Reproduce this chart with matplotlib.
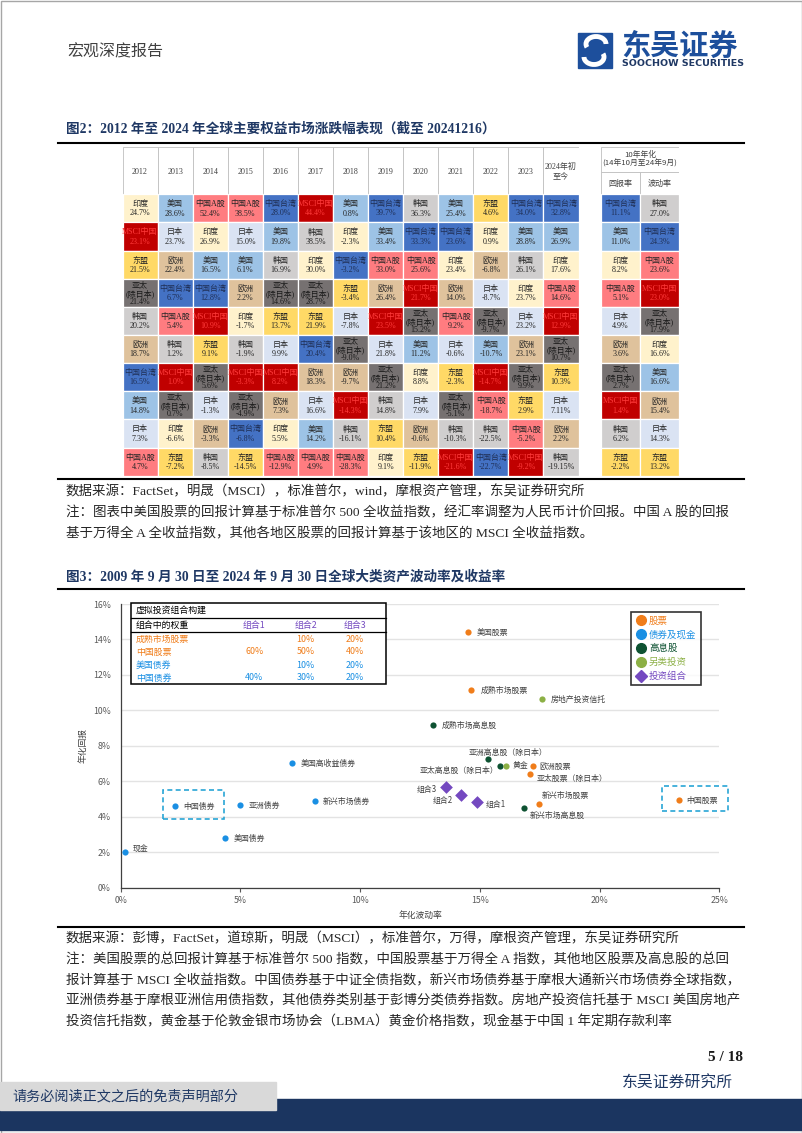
import matplotlib
matplotlib.use('Agg')
import matplotlib.pyplot as plt
from matplotlib.patches import Rectangle, Arc
from matplotlib.lines import Line2D

W, H = 802, 1133
CJK = ['Noto Sans CJK SC', 'DejaVu Sans']
SERIF = ['Liberation Serif', 'Noto Sans CJK SC']
NAVY = '#1F3864'

plt.rcParams['font.family'] = CJK
plt.rcParams['axes.unicode_minus'] = False

# ---------------- data: 图2 ----------------
year_labels = ['2012', '2013', '2014', '2015', '2016', '2017', '2018', '2019',
               '2020', '2021', '2022', '2023', '2024年初\n至今']

year_names = [
    ['印度', 'MSCI中国', '东盟', '亚太', '韩国', '欧洲', '中国台湾', '美国', '日本', '中国A股'],
    ['美国', '日本', '欧洲', '中国台湾', '中国A股', '韩国', 'MSCI中国', '亚太', '印度', '东盟'],
    ['中国A股', '印度', '美国', '中国台湾', 'MSCI中国', '东盟', '亚太', '日本', '欧洲', '韩国'],
    ['中国A股', '日本', '美国', '欧洲', '印度', '韩国', 'MSCI中国', '亚太', '中国台湾', '东盟'],
    ['中国台湾', '美国', '韩国', '亚太', '东盟', '日本', 'MSCI中国', '欧洲', '印度', '中国A股'],
    ['MSCI中国', '韩国', '印度', '亚太', '东盟', '中国台湾', '欧洲', '日本', '美国', '中国A股'],
    ['美国', '印度', '中国台湾', '东盟', '日本', '亚太', '欧洲', 'MSCI中国', '韩国', '中国A股'],
    ['中国台湾', '美国', '中国A股', '欧洲', 'MSCI中国', '日本', '亚太', '韩国', '东盟', '印度'],
    ['韩国', '中国台湾', '中国A股', 'MSCI中国', '亚太', '美国', '印度', '日本', '欧洲', '东盟'],
    ['美国', '中国台湾', '印度', '欧洲', '中国A股', '日本', '东盟', '亚太', '韩国', 'MSCI中国'],
    ['东盟', '印度', '欧洲', '日本', '亚太', '美国', 'MSCI中国', '中国A股', '韩国', '中国台湾'],
    ['中国台湾', '美国', '韩国', '印度', '日本', '欧洲', '亚太', '东盟', '中国A股', 'MSCI中国'],
    ['中国台湾', '美国', '印度', '中国A股', 'MSCI中国', '亚太', '东盟', '日本', '欧洲', '韩国'],
]
year_returns = [
    [24.7, 23.1, 21.5, 21.4, 20.2, 18.7, 16.5, 14.8, 7.3, 4.7],
    [28.6, 23.7, 22.4, 6.7, 5.4, 1.2, 1.0, 0.7, -6.6, -7.2],
    [52.4, 26.9, 16.5, 12.8, 10.9, 9.1, 5.6, -1.3, -3.3, -8.5],
    [38.5, 15.0, 6.1, 2.2, -1.7, -1.9, -3.3, -4.9, -6.8, -14.5],
    [28.0, 19.8, 16.9, 14.6, 13.7, 9.9, 8.2, 7.3, 5.5, -12.9],
    [44.4, 38.5, 30.0, 28.7, 21.9, 20.4, 18.3, 16.6, 14.2, 4.9],
    [0.8, -2.3, -3.2, -3.4, -7.8, -9.0, -9.7, -14.3, -16.1, -28.3],
    [39.7, 33.4, 33.0, 26.4, 23.5, 21.8, 21.2, 14.8, 10.4, 9.1],
    [36.3, 33.3, 25.6, 21.7, 15.2, 11.2, 8.8, 7.9, -0.6, -11.9],
    [25.4, 23.6, 23.4, 14.0, 9.2, -0.6, -2.3, -5.1, -10.3, -21.6],
    [4.6, 0.9, -6.8, -8.7, -9.7, -10.7, -14.7, -18.7, -22.5, -22.7],
    [34.0, 28.8, 26.1, 23.7, 23.2, 23.1, 9.9, 2.9, -5.2, -9.2],
    [32.8, 26.9, 17.6, 14.6, 12.9, 10.7, 10.3, 7.11, 2.2, -19.15],
]

ann_ret_names = ['中国台湾', '美国', '印度', '中国A股', '日本', '欧洲', '亚太', 'MSCI中国', '韩国', '东盟']
ann_ret_values = [11.1, 11.0, 8.2, 5.1, 4.9, 3.6, 2.7, 1.4, 6.2, -2.2]
ann_vol_names = ['韩国', '中国台湾', '中国A股', 'MSCI中国', '亚太', '印度', '美国', '欧洲', '日本', '东盟']
ann_vol_values = [27.0, 24.3, 23.6, 23.0, 17.9, 16.6, 16.6, 15.4, 14.3, 13.2]

region_color = {
    '印度': '#FFF2CC', '美国': '#9DC3E6', '中国A股': '#FF7C80', '中国台湾': '#4472C4',
    'MSCI中国': '#C00000', '日本': '#DAE3F3', '东盟': '#FFD966', '欧洲': '#DFC29C',
    '亚太': '#767171', '韩国': '#D0CECE',
}
region_text = {'中国台湾': '#1F2F55', 'MSCI中国': '#FF3B3B', '亚太': '#1A1A1A'}

# ---------------- data: 图3 ----------------
asset_names = ['现金', '美国债券', '中国债券', '亚洲债券', '新兴市场债券', '美国高收益债券',
               '美国股票', '成熟市场股票', '欧洲股票', '亚太股票（除日本）', '新兴市场股票', '中国股票',
               '成熟市场高息股', '亚洲高息股（除日本）', '亚太高息股（除日本）', '新兴市场高息股',
               '房地产投资信托', '黄金', '组合1', '组合2', '组合3']
asset_vol = [0.2, 4.35, 2.28, 5.0, 8.1, 7.15,
             14.5, 14.65, 17.2, 17.1, 17.45, 23.3,
             13.05, 15.35, 15.85, 16.85,
             17.6, 16.1, 14.9, 14.2, 13.6]
asset_ret = [2.03, 2.8, 4.62, 4.67, 4.9, 7.05,
             14.4, 11.15, 6.86, 6.41, 4.71, 4.92,
             9.2, 7.25, 6.88, 4.5,
             10.66, 6.89, 4.82, 5.24, 5.67]
asset_group = (['债券及现金'] * 6 + ['股票'] * 6 + ['高息股'] * 4 +
               ['另类投资'] * 2 + ['投资组合'] * 3)
group_order = ['股票', '债券及现金', '高息股', '另类投资', '投资组合']

portfolio_rows = ['成熟市场股票', '中国股票', '美国债券', '中国债券']
portfolio_cols = ['组合1', '组合2', '组合3']
weight_p1 = [None, 60, None, 40]
weight_p2 = [10, 50, 10, 30]
weight_p3 = [20, 40, 20, 20]

group_color = {'股票': '#F07D1A', '债券及现金': '#1A8FE3', '高息股': '#0E5232',
               '另类投资': '#8CB045', '投资组合': '#7449C0'}
row_color = ['#F07D1A', '#F07D1A', '#1A8FE3', '#1A8FE3']

# label offsets in pixels (dx, dy up, ha)
label_pos = {
    '现金': (7.5, 2, 'left'), '美国债券': (8.7, 0, 'left'), '中国债券': (7.7, -1, 'left'),
    '亚洲债券': (8, -1, 'left'), '新兴市场债券': (8.3, -1, 'left'),
    '美国高收益债券': (8.7, -0.5, 'left'), '美国股票': (8.7, -0.3, 'left'),
    '成熟市场股票': (9, -0.7, 'left'), '房地产投资信托': (9, -1, 'left'),
    '成熟市场高息股': (9, -1, 'left'), '亚洲高息股（除日本）': (20, 7, 'center'),
    '亚太高息股（除日本）': (-2, -4.3, 'right'), '黄金': (6, -0.3, 'left'),
    '欧洲股票': (7, -0.4, 'left'), '亚太股票（除日本）': (6.6, -4.4, 'left'),
    '组合3': (-10, -2, 'right'), '组合2': (-8, -5.3, 'right'), '组合1': (8, -2, 'left'),
    '新兴市场股票': (3.4, 8.3, 'left'), '新兴市场高息股': (5.3, -7.7, 'left'),
    '中国股票': (7.6, 0, 'left'),
}

CELL_FS = 5.8


def fmt(v):
    if abs(v * 10 - round(v * 10)) < 1e-6:
        return f'{v:.1f}%'
    return f'{v:.2f}%'


def px_axes(x0, y0, x1, y1, **kw):
    return fig.add_axes([x0 / W, 1 - y1 / H, (x1 - x0) / W, (y1 - y0) / H], **kw)


def cell_label(name, v):
    if name == '亚太':
        return '亚太\n(除日本)\n' + fmt(v), 0.98
    return name + '\n' + fmt(v), 1.2


def draw_cell(axx, j, i, nm, v):
    axx.add_patch(Rectangle((j, i), 1, 1, fc=region_color[nm], ec='white', lw=0.9))
    s, ls = cell_label(nm, v)
    axx.text(j + 0.5, i + 0.52, s, ha='center', va='center', fontsize=CELL_FS,
             color=region_text.get(nm, '#262626'), family=SERIF, linespacing=ls)


fig = plt.figure(figsize=(W / 100, H / 100), dpi=100)

# page layer
pg = fig.add_axes([0, 0, 1, 1])
pg.set_xlim(0, W)
pg.set_ylim(H, 0)
pg.axis('off')

pg.add_patch(Rectangle((0.5, 0.5), W - 1, H - 1, fill=False, ec='#A6A6A6', lw=1))
pg.text(67, 52, '宏观深度报告', fontsize=11.5, color='#404040', va='center')

# logo
pg.add_patch(Rectangle((578, 33), 34, 35, color='#1D4F9C'))
pg.add_patch(Arc((596, 44), 20, 15, theta1=160, theta2=360, color='white', lw=3.5))
pg.add_patch(Arc((594, 57), 20, 15, theta1=-20, theta2=180, color='white', lw=3.5))
pg.text(621, 46, '东吴证券', fontsize=21, color='#1D4F9C', va='center', fontweight='bold')
pg.text(622, 64, 'SOOCHOW SECURITIES', fontsize=6.8, color=NAVY, va='center',
        fontweight='bold', family='DejaVu Sans')

# titles, rules and notes
pg.text(66, 129, '图2：2012 年至 2024 年全球主要权益市场涨跌幅表现（截至 20241216）',
        fontsize=9.8, color=NAVY, fontweight='bold', va='center', family=SERIF)
for yy in (143, 479.3, 589, 926.7):
    pg.plot([58, 744], [yy, yy], color='black', lw=1.5)

notes1 = ['数据来源：FactSet，明晟（MSCI），标准普尔，wind，摩根资产管理，东吴证券研究所',
          '注：图表中美国股票的回报计算基于标准普尔 500 全收益指数，经汇率调整为人民币计价回报。中国 A 股的回报',
          '基于万得全 A 全收益指数，其他各地区股票的回报计算基于该地区的 MSCI 全收益指数。']
for k, s in enumerate(notes1):
    pg.text(66, 491.7 + k * 20.8, s, fontsize=9.7, color='#262626', va='center', family=SERIF)

pg.text(66, 577.3, '图3：2009 年 9 月 30 日至 2024 年 9 月 30 日全球大类资产波动率及收益率',
        fontsize=9.8, color=NAVY, fontweight='bold', va='center', family=SERIF)

notes2 = ['数据来源：彭博，FactSet，道琼斯，明晟（MSCI），标准普尔，万得，摩根资产管理，东吴证券研究所',
          '注：美国股票的总回报计算基于标准普尔 500 指数，中国股票基于万得全 A 指数，其他地区股票及高息股的总回',
          '报计算基于 MSCI 全收益指数。中国债券基于中证全债指数，新兴市场债券基于摩根大通新兴市场债券全球指数，',
          '亚洲债券基于摩根亚洲信用债指数，其他债券类别基于彭博分类债券指数。房地产投资信托基于 MSCI 美国房地产',
          '投资信托指数，黄金基于伦敦金银市场协会（LBMA）黄金价格指数，现金基于中国 1 年定期存款利率']
for k, s in enumerate(notes2):
    pg.text(66, 939 + k * 20.7, s, fontsize=9.7, color='#262626', va='center', family=SERIF)

# footer
pg.text(743, 1057.3, '5 / 18', fontsize=11, fontweight='bold', ha='right', va='center',
        color='#1A1A1A', family='Liberation Serif')
pg.text(733, 1083, '东吴证券研究所', fontsize=11.4, color=NAVY, ha='right', va='center')
pg.add_patch(Rectangle((0, 1099.3), W, 30.7, color='#1B3560'))
pg.add_patch(Rectangle((0, 1081.7), 276, 28.3, color='#D9D9D9'))
pg.text(12, 1096, '请务必阅读正文之后的免责声明部分', fontsize=10.2, color=NAVY, va='center')

# ---------------- 图2 table ----------------
hdr = 1.69
ta = px_axes(122.5, 146.7, 578.5, 475.7)
ta.set_xlim(0, len(year_labels))
ta.set_ylim(10, -hdr)
ta.axis('off')
for j, lab in enumerate(year_labels):
    ta.add_patch(Rectangle((j, -hdr), 1, hdr, fc='white', ec='#BFBFBF', lw=0.6))
    ta.text(j + 0.5, -hdr / 2 + 0.05, lab, ha='center', va='center', fontsize=CELL_FS,
            color='#404040', family=SERIF, linespacing=1.3)
    for i, (nm, v) in enumerate(zip(year_names[j], year_returns[j])):
        draw_cell(ta, j, i, nm, v)

tb = px_axes(601, 146.7, 679, 475.7)
tb.set_xlim(0, 2)
tb.set_ylim(10, -hdr)
tb.axis('off')
sub = 0.80
tb.add_patch(Rectangle((0, -hdr), 2, hdr - sub, fc='white', ec='#BFBFBF', lw=0.6))
tb.text(1, -hdr + (hdr - sub) / 2, '10年年化\n(14年10月至24年9月)', ha='center', va='center',
        fontsize=5.6, color='#404040', linespacing=1.15)
for j, (lab, nms, vals) in enumerate([('回报率', ann_ret_names, ann_ret_values),
                                      ('波动率', ann_vol_names, ann_vol_values)]):
    tb.add_patch(Rectangle((j, -sub), 1, sub, fc='white', ec='#BFBFBF', lw=0.6))
    tb.text(j + 0.5, -sub / 2, lab, ha='center', va='center', fontsize=CELL_FS, color='#404040')
    for i, (nm, v) in enumerate(zip(nms, vals)):
        draw_cell(tb, j, i, nm, v)

# ---------------- 图3 scatter ----------------
ax = px_axes(120.7, 604, 719.3, 887.7)
ax.set_xlim(0, 25)
ax.set_ylim(0, 16)
ax.set_xticks(range(0, 26, 5))
ax.set_xticklabels([f'{t}%' for t in range(0, 26, 5)])
ax.set_yticks(range(0, 17, 2))
ax.set_yticklabels([f'{t}%' for t in range(0, 17, 2)])
ax.tick_params(axis='x', length=3, width=0.8, pad=3, labelsize=6.3, colors='#595959')
ax.tick_params(axis='y', length=0, pad=7, labelsize=6.3, colors='#595959')
ax.yaxis.grid(True, color='#E3E3E3', lw=1.0)
ax.set_axisbelow(True)
for sp in ('top', 'right'):
    ax.spines[sp].set_visible(False)
for sp in ('left', 'bottom'):
    ax.spines[sp].set_color('#404040')
    ax.spines[sp].set_linewidth(0.9)
ax.set_xlabel('年化波动率', fontsize=6.3, color='#404040', labelpad=4)
ax.set_ylabel('年化回报', fontsize=6.3, color='#404040', labelpad=4)

for g in group_order:
    xs = [x for x, gg in zip(asset_vol, asset_group) if gg == g]
    ys = [y for y, gg in zip(asset_ret, asset_group) if gg == g]
    if g == '投资组合':
        ax.scatter(xs, ys, marker='D', s=42, color=group_color[g], zorder=3, lw=0)
    else:
        ax.scatter(xs, ys, s=20, color=group_color[g], zorder=3, lw=0)

for nm, x, y in zip(asset_names, asset_vol, asset_ret):
    dx, dy, ha = label_pos[nm]
    ax.annotate(nm, (x, y), xytext=(dx, dy), textcoords='offset pixels', ha=ha,
                va='center', fontsize=5.7, color='#404040', zorder=4)

# dashed highlight boxes
ax.add_patch(Rectangle((1.77, 3.89), 2.53, 1.62, fill=False, ec='#29A5D6', lw=1.2,
                       ls=(0, (3, 2)), clip_on=False, zorder=4))
ax.add_patch(Rectangle((22.62, 4.31), 2.76, 1.41, fill=False, ec='#29A5D6', lw=1.2,
                       ls=(0, (3, 2)), clip_on=False, zorder=4))

handles = []
for g in group_order:
    mk = 'D' if g == '投资组合' else 'o'
    handles.append(Line2D([], [], ls='none', marker=mk, markersize=7 if mk == 'o' else 6,
                          color=group_color[g]))
leg = ax.legend(handles, group_order, loc='upper left', bbox_to_anchor=(0.8525, 0.9707),
                borderaxespad=0, fontsize=6.8, frameon=True, fancybox=False,
                edgecolor='black', handletextpad=0.15, handlelength=1.3, labelspacing=0.48,
                borderpad=0.45)
leg.get_frame().set_linewidth(1.2)
for t, g in zip(leg.get_texts(), group_order):
    t.set_color(group_color[g])

# inset weights table
top = fig.add_axes([0, 0, 1, 1], zorder=5)
top.set_xlim(0, W)
top.set_ylim(H, 0)
top.axis('off')
top.add_patch(Rectangle((130.7, 603.3), 255.3, 81, fc='white', ec='black', lw=1.1))
top.plot([130.7, 386], [618, 618], color='black', lw=0.9)
top.plot([130.7, 386], [632.3, 632.3], color='black', lw=0.9)
top.text(136, 610.7, '虚拟投资组合构建', fontsize=6.4, color='black', va='center')
top.text(136, 625.2, '组合中的权重', fontsize=6.4, color='black', va='center')
col_x = [254.3, 305.7, 355]
for cx, c in zip(col_x, portfolio_cols):
    top.text(cx, 625.2, c, fontsize=6.4, color='#7449C0', va='center', ha='center')
for r, (nm, rc) in enumerate(zip(portfolio_rows, row_color)):
    yy = 639 + r * 13
    top.text(136, yy, nm, fontsize=6.4, color=rc, va='center')
    for cx, wl in zip(col_x, (weight_p1, weight_p2, weight_p3)):
        if wl[r] is not None:
            top.text(cx, yy, f'{wl[r]}%', fontsize=6.4, color=rc, va='center', ha='center')

fig.savefig('out.png', dpi=100)
